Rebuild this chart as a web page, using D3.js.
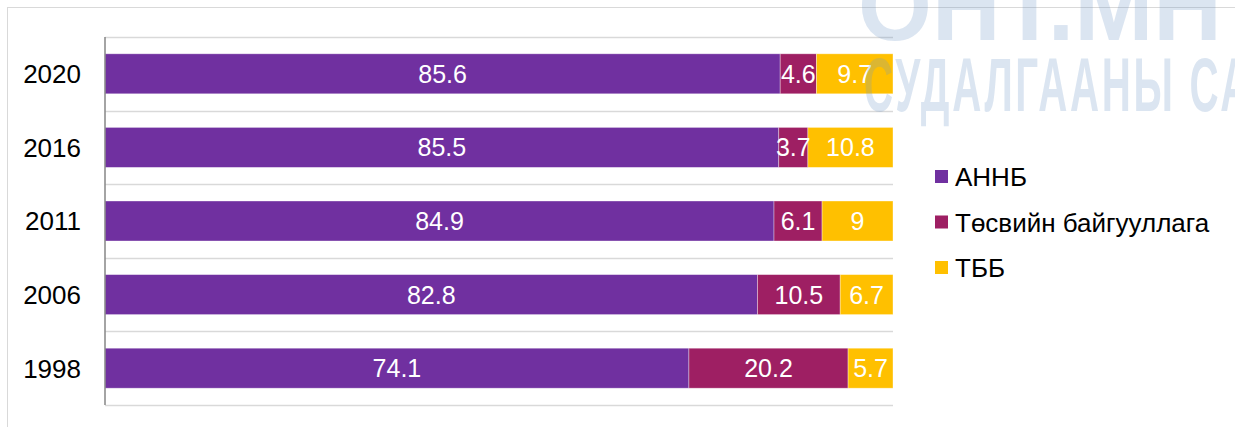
<!DOCTYPE html>
<html><head><meta charset="utf-8">
<script src="https://cdn.jsdelivr.net/npm/d3@7"></script>
<style>body{margin:0;background:#fff}svg{display:block}text{font-family:"Liberation Sans",Arial,sans-serif}</style>
</head><body>
<svg id="c" width="1235" height="427"></svg>
<script>
const categories = ["2020","2016","2011","2006","1998"];
const seriesNames = ["АННБ","Төсвийн байгууллага","ТББ"];
const annb = [85.6,85.5,84.9,82.8,74.1];
const tosviin = [4.6,3.7,6.1,10.5,20.2];
const tbb = [9.7,10.8,9,6.7,5.7];
const colors = ["#7030A0","#9E1F63","#FFC000"];

const svg = d3.select("#c");
// chart border
svg.append("rect").attr("x",7.5).attr("y",7.5).attr("width",1400).attr("height",600)
  .attr("fill","none").attr("stroke","#d9d9d9").attr("stroke-width",1);

const x = d3.scaleLinear().domain([0,100]).range([105,893]);
const y = d3.scaleBand().domain(categories).range([37,405]).paddingInner(0.4565).paddingOuter(0.22825);

const rows = categories.map((c,i)=>{
  const vals=[annb[i],tosviin[i],tbb[i]];
  const tot=d3.sum(vals);
  let acc=0;
  return vals.map((v,j)=>{const s=acc/tot*100; acc+=v; return {cat:c,val:v,j,x0:s,x1:acc/tot*100};});
});

// gridlines at band boundaries
const bounds = categories.map(c=>y(c)-y.step()*y.paddingInner()/2).concat([405]);
svg.append("g").selectAll("line").data(bounds).join("line")
  .attr("x1",105).attr("x2",893).attr("y1",d=>Math.round(d)+0.5).attr("y2",d=>Math.round(d)+0.5)
  .attr("stroke","#d9d9d9").attr("stroke-width",1.5);

// bars
const g = svg.append("g");
rows.forEach(r=>{
  g.selectAll(null).data(r).join("rect")
    .attr("x",d=>x(d.x0)).attr("width",d=>x(d.x1)-x(d.x0))
    .attr("y",d=>y(d.cat)).attr("height",y.bandwidth())
    .attr("fill",d=>colors[d.j]).attr("stroke","rgba(255,255,255,0.45)").attr("stroke-width",0.8);
  g.selectAll(null).data(r).join("text")
    .attr("x",d=>(x(d.x0)+x(d.x1))/2).attr("y",d=>y(d.cat)+y.bandwidth()/2)
    .attr("dy","0.36em").attr("text-anchor","middle").attr("fill","#fff")
    .attr("font-size",25).text(d=>d3.format("")(d.val));
});

// y axis
const ya = svg.append("g").attr("transform","translate(105,0)").call(d3.axisLeft(y).tickSize(0).tickPadding(24));
ya.select(".domain").attr("stroke","#868686").attr("stroke-width",1.5).attr("d","M0,37V405");
ya.selectAll("text").attr("font-size",26).attr("fill","#000").attr("font-family","Liberation Sans, Arial, sans-serif").attr("dy","0.36em");

// legend
const lg = svg.append("g");
const ly = d3.scalePoint().domain(seriesNames).range([177,268]);
seriesNames.forEach((n,i)=>{
  lg.append("rect").attr("x",935).attr("y",ly(n)-7).attr("width",13).attr("height",13).attr("fill",colors[i]);
  lg.append("text").attr("x",955).attr("y",ly(n)).attr("dy","0.36em").attr("font-size",26).attr("fill","#000").text(n);
});

// watermark
const wm = svg.append("g").attr("fill","rgb(110,150,200)").attr("fill-opacity",0.25)
  .attr("font-family","DejaVu Sans Condensed, DejaVu Sans").attr("font-weight","bold");
wm.append("text").attr("transform","translate(858,40) scale(0.95,1)").attr("font-size",100).text("ОНТ.МН");
wm.append("text").attr("transform","translate(864,111) scale(0.53,1)").attr("font-size",76).attr("letter-spacing",5).text("СУДАЛГААНЫ САН");
</script>
</body></html>
